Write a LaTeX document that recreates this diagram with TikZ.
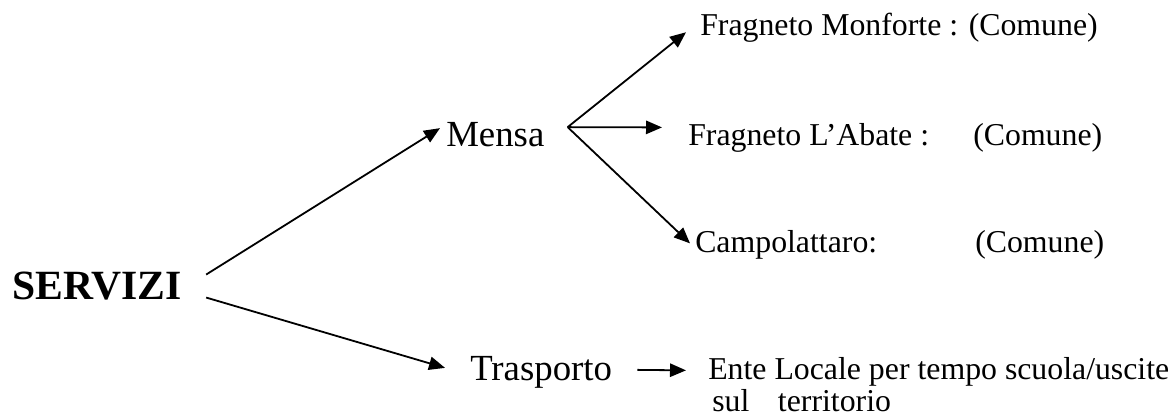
\documentclass[tikz,border=0pt]{standalone}
\usepackage{fontspec}
\setmainfont{Liberation Serif}
\usetikzlibrary{positioning, arrows.meta, calc}

\tikzset{
    txt/.style={inner sep=0pt, anchor=base west, font=\fontsize{23.85}{24}\selectfont},
    mid/.style={txt, font=\fontsize{27.6}{28}\selectfont},
    head/.style={txt, font=\bfseries\fontsize{31.2}{32}\selectfont},
    conn/.style={line width=1.35pt, -{Triangle[length=12pt, width=10pt]}}
}

\begin{document}
\begin{tikzpicture}[x=0.75pt, y=-0.75pt]
    \useasboundingbox (0,0) rectangle (1176,419);

    \node[head] (servizi) at (12,299) {SERVIZI};

    \node[mid] (mensa) at (446,146) {Mensa};
    \node[mid] (trasporto) at (470,380) {Trasporto};

    \node[txt] (monforte) at (700,35) {Fragneto Monforte : (Comune)};
    \node[txt] (abate) at (688,145) {\makebox[213.75pt][l]{Fragneto L’Abate :}(Comune)};
    \node[txt] (campo) at (695,252) {\makebox[210pt][l]{Campolattaro:}(Comune)};

    \node[txt] (ente) at (708,379) {Ente Locale per tempo scuola/uscite};
    \node[txt] (ente2) at ([shift={(4,32)}]ente.base west) {sul\hspace{0.9em}territorio};

    \coordinate (fork) at ([shift={(23,-7)}]mensa.east);

    \path[conn]
        ([shift={(24,-11)}]servizi.east) edge ([shift={(-6,-6)}]mensa.west)
        ([shift={(24,12)}]servizi.east) edge ([shift={(-25,-4)}]trasporto.west)
        
        (fork) edge ([shift={(-14,5)}]monforte.west)
        (fork) edge ([shift={(-26,-10)}]abate.west)
        (fork) edge ([shift={(-5,-1)}]campo.west)
        
        ([shift={(25,-2)}]trasporto.east) edge ([shift={(-22,-1)}]ente.west)
    ;
\end{tikzpicture}
\end{document}
